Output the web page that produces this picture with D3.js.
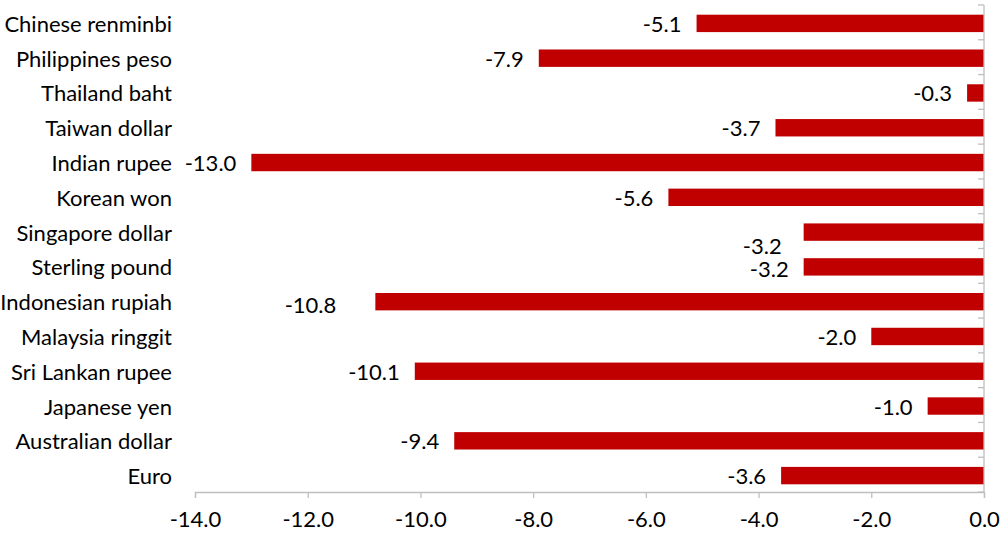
<!DOCTYPE html>
<html><head><meta charset="utf-8">
<script src="https://cdn.jsdelivr.net/npm/d3@7"></script>
<style>body{margin:0;background:#fff}svg{display:block}text{font-family:Lato,"Open Sans",sans-serif;fill:#000}</style>
</head><body>
<svg id="chart" width="1000" height="544"></svg>
<script>
const categories = ["Chinese renminbi","Philippines peso","Thailand baht","Taiwan dollar","Indian rupee","Korean won","Singapore dollar","Sterling pound","Indonesian rupiah","Malaysia ringgit","Sri Lankan rupee","Japanese yen","Australian dollar","Euro"];
const values = [-5.1,-7.9,-0.3,-3.7,-13.0,-5.6,-3.2,-3.2,-10.8,-2.0,-10.1,-1.0,-9.4,-3.6];
const tickValues = [-14,-12,-10,-8,-6,-4,-2,0];

const svg = d3.select("#chart");
const fs = 22;
const x = d3.scaleLinear().domain([-14,0]).range([195,984]);
const y = d3.scaleBand().domain(categories).range([5,492]).paddingInner(0.5).paddingOuter(0.25);
const data = categories.map((c,i)=>({c, v: values[i]}));

// label nudges (dx, dy) for overlapping labels
const nudge = {"Singapore dollar":[-7,13],"Sterling pound":[0,2],"Indonesian rupiah":[-24,3]};

svg.append("g").selectAll("rect").data(data).join("rect")
  .attr("x", d=>x(d.v)).attr("width", d=>x(0)-x(d.v))
  .attr("y", d=>y(d.c)+1).attr("height", y.bandwidth())
  .attr("fill","#C00000");

svg.append("g").selectAll("text").data(data).join("text")
  .attr("x", d=>x(d.v)-15+(nudge[d.c]?nudge[d.c][0]:0))
  .attr("y", d=>y(d.c)+1+y.bandwidth()/2+(nudge[d.c]?nudge[d.c][1]:0))
  .attr("text-anchor","end").attr("dominant-baseline","central")
  .style("font-size", fs+"px")
  .text(d=>d.v.toFixed(1));

svg.append("g").selectAll("text").data(categories).join("text")
  .attr("x",172).attr("y", d=>y(d)+1+y.bandwidth()/2)
  .attr("text-anchor","end").attr("dominant-baseline","central")
  .style("font-size", fs+"px")
  .text(d=>d);

// vertical axis at zero
const yr = y.range(), step = y.step();
const vg = svg.append("g").attr("stroke","#BFBFBF").attr("stroke-width",1.3);
vg.append("line").attr("x1",x(0)).attr("x2",x(0)).attr("y1",yr[0]).attr("y2",yr[1]);
vg.selectAll("line.t").data(d3.range(categories.length+1)).join("line").attr("class","t")
  .attr("x1",x(0)-6).attr("x2",x(0)).attr("y1",i=>yr[0]+i*step).attr("y2",i=>yr[0]+i*step);

const xa = svg.append("g").attr("transform",`translate(0,${yr[1]})`)
  .call(d3.axisBottom(x).tickValues(tickValues).tickSize(6).tickPadding(13).tickFormat(d=>d.toFixed(1)));
xa.selectAll("path,line").attr("stroke","#BFBFBF").attr("stroke-width",1.3);
xa.selectAll("text").style("font-size",fs+"px").attr("fill","#000").style("font-family","Lato, 'Open Sans', sans-serif");
</script>
</body></html>
